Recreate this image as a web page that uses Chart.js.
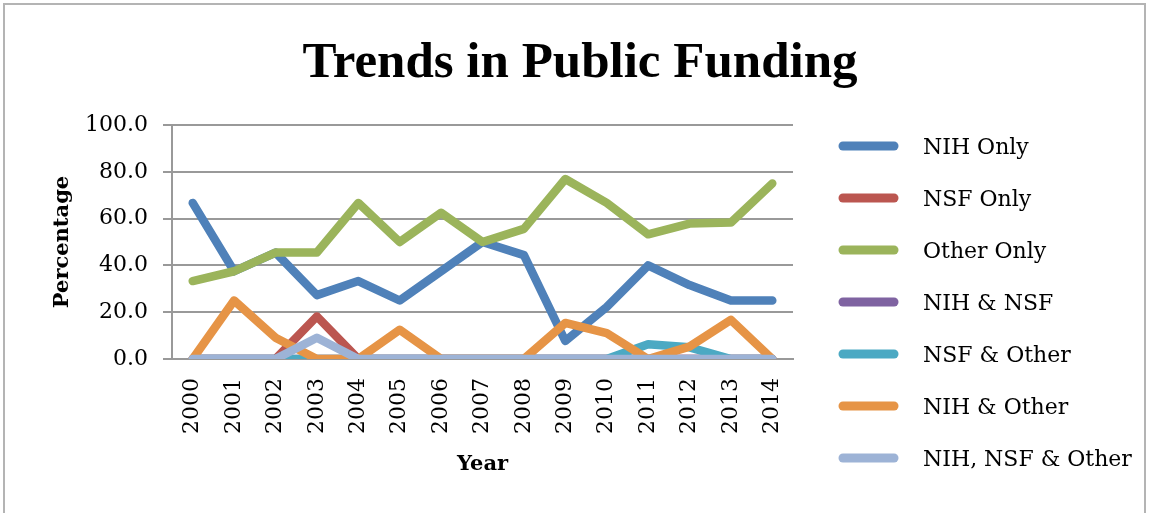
<!DOCTYPE html>
<html>
<head>
<meta charset="utf-8">
<script src="https://cdn.jsdelivr.net/npm/chart.js@4"></script>
<style>
  html, body { margin: 0; padding: 0; background: #fff; }
  #wrap { position: relative; width: 1156px; height: 513px; overflow: hidden; }
  #frame { position: absolute; left: 3px; top: 3px; width: 1143px; height: 530px; border: 2px solid #b4b4b4; box-sizing: border-box; }
  canvas { position: absolute; left: 0; top: 0; }
</style>
</head>
<body>
<div id="wrap">
  <div id="frame"></div>
  <canvas id="chart" width="1156" height="513"></canvas>
</div>
<script>
// data
const years = ["2000", "2001", "2002", "2003", "2004", "2005", "2006", "2007",
  "2008", "2009", "2010", "2011", "2012", "2013", "2014"];
const nihOnly   = [66.7, 37.5, 45.5, 27.3, 33.3, 25.0, 37.5, 50.0, 44.4, 7.7, 22.2, 40.0, 31.6, 25.0, 25.0];
const nsfOnly   = [0, 0, 0, 18.2, 0, 0, 0, 0, 0, 0, 0, 0, 0, 0, 0];
const otherOnly = [33.3, 37.5, 45.5, 45.5, 66.7, 50.0, 62.5, 50.0, 55.6, 76.9, 66.7, 53.3, 57.9, 58.3, 75.0];
const nihNsf    = [0, 0, 0, 0, 0, 0, 0, 0, 0, 0, 0, 0, 0, 0, 0];
const nsfOther  = [0, 0, 0, 0, 0, 0, 0, 0, 0, 0, 0, 6.3, 5.0, 0, 0];
const nihOther  = [0, 25.0, 9.1, 0, 0, 12.5, 0, 0, 0, 15.4, 11.1, 0, 5.3, 16.7, 0];
const allThree  = [0, 0, 0, 9.1, 0, 0, 0, 0, 0, 0, 0, 0, 0, 0, 0];

const seriesNames = ["NIH Only", "NSF Only", "Other Only", "NIH & NSF", "NSF & Other", "NIH & Other", "NIH, NSF & Other"];
const seriesData = [nihOnly, nsfOnly, otherOnly, nihNsf, nsfOther, nihOther, allThree];
const colors = ["#4f81b9", "#bb5650", "#9bb45b", "#7f63a1", "#4ba9c3", "#e69446", "#9db3d6"];
const chartTitle = "Trends in Public Funding";

Chart.defaults.font.family = "'DejaVu Serif', serif";
Chart.defaults.color = "#000";

// title over the whole picture and legend at the right, like the original
const sideLegend = {
  id: "sideLegend",
  afterDraw(chart) {
    const ctx = chart.ctx;
    ctx.save();
    ctx.fillStyle = "#000";
    ctx.font = "bold 51px 'Liberation Serif'";
    ctx.textAlign = "center";
    ctx.textBaseline = "alphabetic";
    ctx.fillText(chartTitle, 580, 77);

    ctx.font = "22px 'DejaVu Serif'";
    ctx.textAlign = "left";
    ctx.textBaseline = "middle";
    chart.data.datasets.forEach((ds, i) => {
      const y = 146 + i * 52;
      ctx.strokeStyle = ds.borderColor;
      ctx.lineWidth = 9;
      ctx.lineCap = "round";
      ctx.beginPath();
      ctx.moveTo(843, y);
      ctx.lineTo(894, y);
      ctx.stroke();
      ctx.fillText(ds.label, 923, y + 2);
    });
    ctx.restore();
  }
};

new Chart(document.getElementById("chart"), {
  type: "line",
  data: {
    labels: years,
    datasets: seriesNames.map((name, i) => ({
      label: name,
      data: seriesData[i],
      borderColor: colors[i],
      backgroundColor: colors[i],
      borderWidth: 8.5,
      borderCapStyle: "round",
      borderJoinStyle: "round",
      pointRadius: 0,
      tension: 0,
      order: 6 - i
    }))
  },
  options: {
    responsive: false,
    animation: false,
    devicePixelRatio: 1,
    layout: { padding: { left: 0, top: 125, right: 363, bottom: 0 } },
    plugins: {
      legend: { display: false },
      tooltip: { enabled: false },
      title: { display: false }
    },
    scales: {
      x: {
        offset: true,
        grid: { display: false, drawTicks: false },
        border: { display: true, color: "#999", width: 2 },
        ticks: {
          autoSkip: false,
          minRotation: 90,
          maxRotation: 90,
          padding: 19,
          font: { size: 22 }
        },
        title: {
          display: true,
          text: "Year",
          font: { size: 21, weight: "bold", lineHeight: 1.2 },
          padding: { top: 0, bottom: 36 }
        },
        afterFit(scale) { scale.height = 154; }
      },
      y: {
        min: 0,
        max: 100,
        ticks: {
          stepSize: 20,
          padding: 15,
          font: { size: 22 },
          callback: v => v.toFixed(1)
        },
        grid: { color: "#999", lineWidth: 2, drawTicks: true, tickLength: 9 },
        border: { display: true, color: "#999", width: 2 },
        title: {
          display: true,
          text: "Percentage",
          font: { size: 21, weight: "bold", lineHeight: 1.2 },
          padding: { top: 50, bottom: 0 }
        },
        afterFit(scale) { scale.width = 172; }
      }
    }
  },
  plugins: [sideLegend]
});
</script>
</body>
</html>
